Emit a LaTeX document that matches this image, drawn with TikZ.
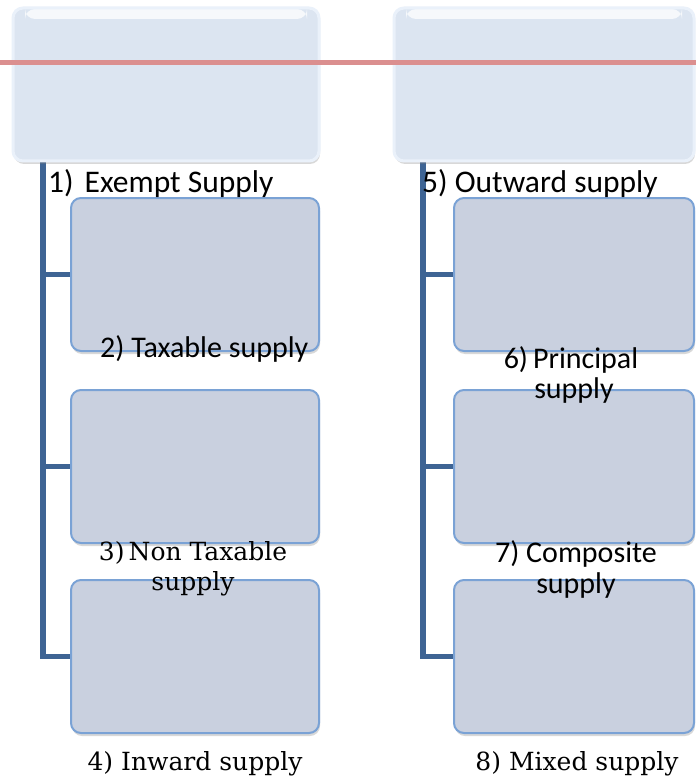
\documentclass[tikz,border=0pt]{standalone}
\usepackage{fontspec}
\newfontfamily\calfont{Carlito}
\newfontfamily\cambfont{DejaVu Serif}
\usetikzlibrary{shadows,backgrounds}
\definecolor{topfill}{HTML}{DCE5F1}
\definecolor{topedge}{HTML}{EAF1FA}
\definecolor{childfill}{HTML}{C9D0DF}
\definecolor{childedge}{HTML}{7AA2D5}
\definecolor{barblue}{HTML}{3E6494}
\definecolor{redline}{HTML}{DB8F8F}
\begin{document}
\begin{tikzpicture}[x=1pt,y=-1pt,
  topbox/.style={rounded corners=10pt, fill=topfill, draw=topedge, line width=3pt,
    minimum height=153pt, inner sep=0pt,
    drop shadow={shadow xshift=1pt, shadow yshift=-3pt, opacity=0.3},
    path picture={\fill[white,opacity=0.75] ([xshift=12pt,yshift=-1pt]path picture bounding box.north west)
      rectangle ([xshift=-12pt,yshift=-11pt]path picture bounding box.north east);}},
  childbox/.style={rounded corners=10pt, fill=childfill, draw=childedge, line width=2pt,
    minimum height=153pt, inner sep=0pt,
    drop shadow={shadow xshift=1pt, shadow yshift=-3pt, opacity=0.3}},
  conn/.style={barblue, line width=5.5pt},
  calbl/.style={font=\calfont\fontsize{31.5}{31.5}\selectfont, inner sep=0pt},
  calsm/.style={font=\calfont\fontsize{30}{30}\selectfont, inner sep=0pt},
  camlbl/.style={font=\cambfont\fontsize{25}{30}\selectfont, inner sep=0pt}
]
\useasboundingbox (0,0) rectangle (696,778);

% top boxes
\node[topbox, minimum width=306pt] (tl) at (166,84.5) {};
\node[topbox, minimum width=300pt] (tr) at (544,84.5) {};

% child boxes left
\node[childbox, minimum width=248pt] (l1) at (195,274.5) {};
\node[childbox, minimum width=248pt] (l2) at (195,466.5) {};
\node[childbox, minimum width=248pt] (l3) at (195,656.5) {};
% child boxes right
\node[childbox, minimum width=240pt] (r1) at (574,274.5) {};
\node[childbox, minimum width=240pt] (r2) at (574,466.5) {};
\node[childbox, minimum width=240pt] (r3) at (574,656.5) {};

% connectors
\coordinate (lb) at (43,158);
\coordinate (rb) at (423,158);
\coordinate (bgnw) at (0,0);
\coordinate (bgse) at (696,778);
\begin{scope}[on background layer]
\fill[white] (bgnw) rectangle (bgse);
\draw[conn, line join=miter] (lb) -- (lb |- l3.west) -- (l3.west);
\draw[conn] (lb |- l1.west) -- (l1.west);
\draw[conn] (lb |- l2.west) -- (l2.west);
\draw[conn, line join=miter] (rb) -- (rb |- r3.west) -- (r3.west);
\draw[conn] (rb |- r1.west) -- (r1.west);
\draw[conn] (rb |- r2.west) -- (r2.west);
\end{scope}

% red line
\coordinate (rl) at (0,63);
\coordinate (rr) at (696,63);
\draw[redline, line width=5pt] (rl) -- (rr);

% labels
\node[calbl, anchor=base west] (t1) at (48,192) {1)\hspace{11pt}Exempt Supply};
\node[calbl, anchor=base west] (t5) at (422,192) {5) Outward supply};
\node[calsm, anchor=base west] (t2) at (100,357) {2) Taxable supply};
\node[calsm, anchor=base] (t6a) at (571,368) {6)\,Principal};
\node[calsm, anchor=base] (t6b) at (574,398) {supply};
\node[camlbl, anchor=base] (t3a) at (193,560) {3)\,Non Taxable};
\node[camlbl, anchor=base] (t3b) at (193,590) {supply};
\node[camlbl, anchor=base] (t4) at (195,770) {4) Inward supply};
\node[calsm, anchor=base] (t7a) at (576,562) {7) Composite};
\node[calsm, anchor=base] (t7b) at (576,593) {supply};
\node[camlbl, anchor=base] (t8) at (577,770) {8) Mixed supply};
\end{tikzpicture}
\end{document}
